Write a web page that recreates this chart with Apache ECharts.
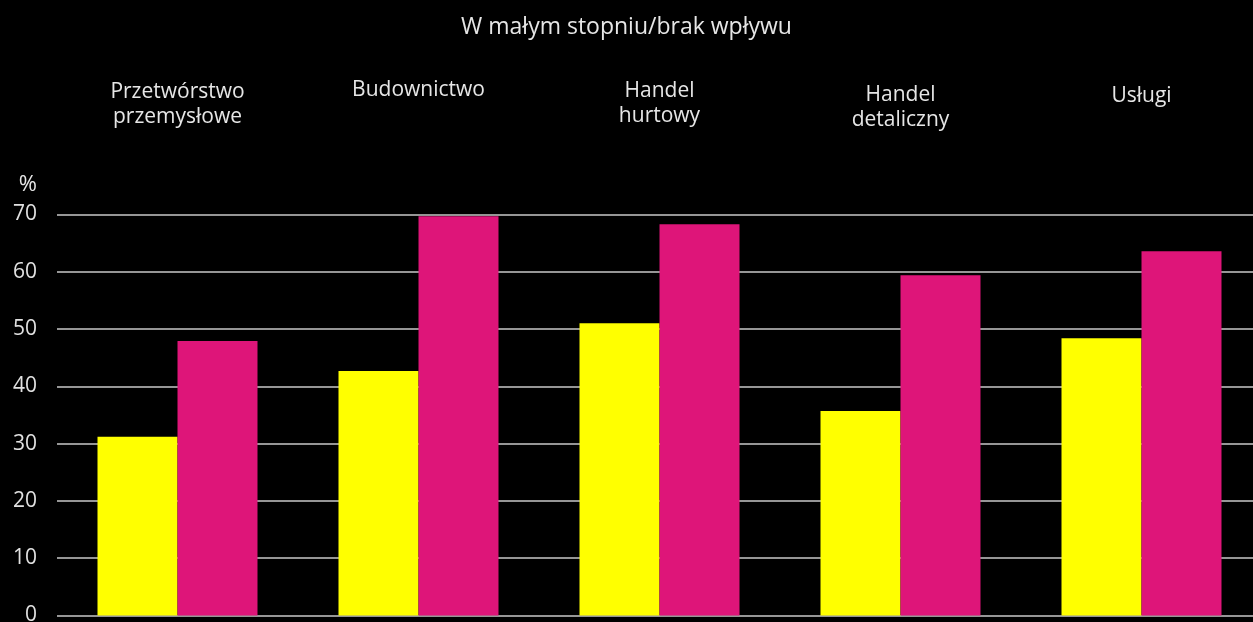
<!DOCTYPE html>
<html>
<head>
<meta charset="utf-8">
<script src="https://cdn.jsdelivr.net/npm/echarts@6/dist/echarts.min.js"></script>
<style>
  html, body { margin: 0; padding: 0; background: #000; }
  #wykres { width: 1253px; height: 622px; }
</style>
</head>
<body>
<div id="wykres"></div>
<script>
// Dane
var kategorie = ['Przetwórstwo\nprzemysłowe', 'Budownictwo', 'Handel\nhurtowy', 'Handel\ndetaliczny', 'Usługi'];
var seriaZolta = [31.2, 42.7, 51.0, 35.7, 48.4];
var seriaRozowa = [47.9, 69.7, 68.3, 59.4, 63.6];

// dodatkowe odsunięcie etykiet kategorii w górę (px)
var odsuniecia = [3, 30, 4, 0, 24];

var chartDom = document.getElementById('wykres');
var myChart = echarts.init(chartDom);
var czcionka = '"Open Sans", "Noto Sans", sans-serif';

var option = {
    backgroundColor: '#000',
    animation: false,
    title: {
        text: 'W małym stopniu/brak wpływu',
        left: 'center',
        top: 11,
        textStyle: {
            color: '#e6e6e6',
            fontSize: 23,
            fontWeight: 'normal',
            fontFamily: czcionka
        }
    },
    grid: {
        left: 57,
        right: -9,
        top: 214.5,
        bottom: 6.5,
        outerBoundsMode: 'none'
    },
    xAxis: {
        type: 'category',
        position: 'top',
        data: kategorie.map(function (k, i) {
            return { value: k, textStyle: { padding: [0, 0, odsuniecia[i], 0] } };
        }),
        axisLine: { show: false },
        axisTick: { show: false },
        axisLabel: {
            interval: 0,
            margin: 82,
            color: '#e6e6e6',
            fontSize: 21,
            lineHeight: 25,
            fontFamily: czcionka
        }
    },
    yAxis: {
        type: 'value',
        min: 0,
        max: 70,
        interval: 10,
        name: '%',
        nameLocation: 'end',
        nameGap: 19,
        nameTextStyle: {
            color: '#e6e6e6',
            fontSize: 22,
            fontFamily: czcionka,
            align: 'right',
            padding: [0, 20, 0, 0]
        },
        axisLine: { show: false },
        axisTick: { show: false },
        axisLabel: {
            margin: 20,
            color: '#e0e0e0',
            fontSize: 21,
            fontFamily: czcionka
        },
        splitLine: {
            lineStyle: { color: '#c8c8c8', width: 1.5 }
        }
    },
    series: [
        {
            name: 'Seria 1',
            type: 'bar',
            data: seriaZolta,
            barWidth: 80,
            barGap: '0%',
            itemStyle: { color: '#ffff00' }
        },
        {
            name: 'Seria 2',
            type: 'bar',
            data: seriaRozowa,
            barWidth: 80,
            barGap: '0%',
            itemStyle: { color: '#de1579' }
        }
    ]
};

option && myChart.setOption(option);
</script>
</body>
</html>
